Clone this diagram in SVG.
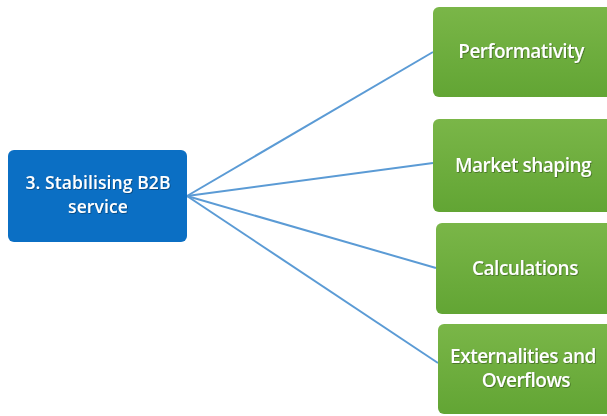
<svg xmlns="http://www.w3.org/2000/svg" width="607" height="416" viewBox="0 0 607 416">
<style>
.lbl{font-family:"Open Sans","Liberation Sans",sans-serif;font-size:19px;font-weight:600;fill:#fff;text-anchor:middle;letter-spacing:-0.5px;filter:url(#sh)}
.lb{font-size:17.5px;letter-spacing:0.1px}
.g{fill:url(#gg)}
.c{stroke:#5b9bd5;stroke-width:2;fill:none}
</style>
<defs>
<linearGradient id="gg" x1="0" y1="0" x2="0" y2="1">
<stop offset="0" stop-color="#7ab648"/>
<stop offset="1" stop-color="#62a534"/>
</linearGradient>
<filter id="sh" x="-10%" y="-30%" width="120%" height="160%">
<feDropShadow dx="0.7" dy="0.7" stdDeviation="0.5" flood-color="#000" flood-opacity="0.45"/>
</filter>
</defs>
<rect width="607" height="416" fill="#fff"/>
<g id="connectors">
<line class="c" x1="187" y1="196" x2="433" y2="52"/>
<line class="c" x1="187" y1="196" x2="433" y2="163"/>
<line class="c" x1="187" y1="196" x2="436" y2="268"/>
<line class="c" x1="187" y1="196" x2="438" y2="363"/>
</g>
<g id="n0">
<rect x="8" y="150" width="179" height="92" rx="6" fill="#0b6fc4"/>
<text class="lbl lb" x="98" y="189">3. Stabilising B2B</text>
<text class="lbl lb" x="98" y="213">service</text>
</g>
<g id="n1">
<rect class="g" x="433" y="7" width="180" height="90" rx="6"/>
<text class="lbl" x="521" y="58">Performativity</text>
</g>
<g id="n2">
<rect class="g" x="433" y="119" width="180" height="93" rx="6"/>
<text class="lbl" x="523" y="172">Market shaping</text>
</g>
<g id="n3">
<rect class="g" x="436" y="223" width="177" height="91" rx="6"/>
<text class="lbl" x="525" y="275">Calculations</text>
</g>
<g id="n4">
<rect class="g" x="438" y="324" width="175" height="90" rx="6"/>
<text class="lbl" x="523" y="363">Externalities and</text>
<text class="lbl" x="526" y="387">Overflows</text>
</g>
</svg>
